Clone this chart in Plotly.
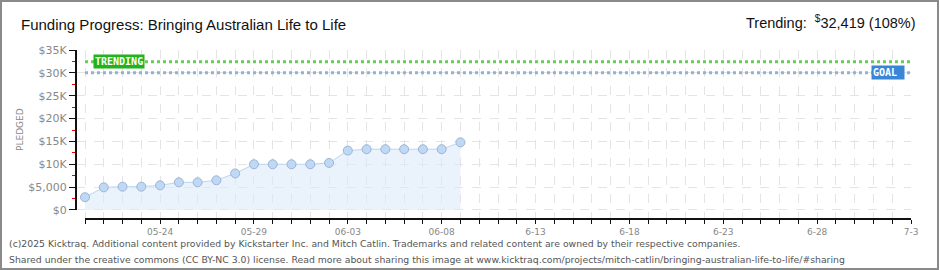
import plotly.graph_objects as go
import pandas as pd

# ---------------- data ----------------
dates = pd.date_range("2025-05-20", "2025-06-09", freq="D").strftime("%Y-%m-%d").tolist()
pledged = [2800, 4950, 5100, 5100, 5400, 6050, 6050, 6500, 8000, 10000,
           10000, 10000, 10000, 10300, 13000, 13300, 13300, 13300, 13300, 13300, 14800]
goal = 30000
trending = 32419
trending_pct = 108

y_tick_vals = [0, 5000, 10000, 15000, 20000, 25000, 30000, 35000]
y_tick_text = ["$0", "$5,000", "$10K", "$15K", "$20K", "$25K", "$30K", "$35K"]
x_tick_days = pd.date_range("2025-05-20", "2025-07-03", freq="D").strftime("%Y-%m-%d").tolist()
x_label_dates = ["2025-05-24", "2025-05-29", "2025-06-03", "2025-06-08", "2025-06-13",
                 "2025-06-18", "2025-06-23", "2025-06-28", "2025-07-03"]
x_label_text = ["05-24", "05-29", "06-03", "06-08", "6-13", "6-18", "6-23", "6-28", "7-3"]

title = "Funding Progress: Bringing Australian Life to Life"
footer1 = ("(c)2025 Kicktraq. Additional content provided by Kickstarter Inc. and Mitch Catlin. "
           "Trademarks and related content are owned by their respective companies.")
footer2 = ("Shared under the creative commons (CC BY-NC 3.0) license. Read more about sharing this image at "
           "www.kicktraq.com/projects/mitch-catlin/bringing-australian-life-to-life/#sharing")

# ---------------- layout geometry (pixels) ----------------
W, H = 940, 270
ML, MR, MT, MB = 76, 29, 50, 51
PW, PH = W - ML - MR, H - MT - MB


def px(x):
    return (x - ML) / PW


def py(y):
    return (H - MB - y) / PH


fig = go.Figure()

fig.add_trace(go.Scatter(
    x=dates, y=pledged, mode="lines+markers",
    line=dict(color="#bcd6f2", width=1),
    fill="tozeroy", fillcolor="rgba(220,234,250,0.6)",
    marker=dict(size=9, color="#bfd8f6", line=dict(color="#9db4d2", width=1)),
    hoverinfo="x+y", showlegend=False,
))

# trending and goal lines
fig.add_trace(go.Scatter(
    x=[dates[0], x_tick_days[-1]], y=[trending, trending], mode="lines",
    line=dict(color="#66cc55", width=3, dash="dot"), showlegend=False, hoverinfo="skip"))
fig.add_trace(go.Scatter(
    x=[dates[0], x_tick_days[-1]], y=[goal, goal], mode="lines",
    line=dict(color="#8fb1da", width=3, dash="dot"), showlegend=False, hoverinfo="skip"))

fig.update_layout(
    width=W, height=H,
    margin=dict(l=ML, r=MR, t=MT, b=MB, pad=0),
    paper_bgcolor="white", plot_bgcolor="white",
    font=dict(family="DejaVu Sans", color="#777"),
    xaxis=dict(
        type="date",
        range=["2025-05-19 12:30", x_tick_days[-1]],
        tickmode="array", tickvals=x_label_dates, ticktext=x_label_text,
        ticks="outside", ticklen=4, tickcolor="#111", tickwidth=1,
        minor=dict(tickmode="array", tickvals=x_tick_days, ticks="outside", ticklen=4,
                   tickcolor="#111", tickwidth=1, showgrid=True, gridcolor="#e4e4e4",
                   griddash="dash", gridwidth=1),
        showgrid=True, gridcolor="#e4e4e4", griddash="dash", gridwidth=1,
        showline=False, zeroline=False,
        tickfont=dict(family="DejaVu Sans", size=9, color="#888"),
        fixedrange=True,
    ),
    yaxis=dict(
        range=[-1970, 35000],
        tickmode="array", tickvals=y_tick_vals, ticktext=y_tick_text,
        ticks="outside", ticklen=6, tickcolor="#111", tickwidth=1,
        minor=dict(tickmode="array", tickvals=[v + 2500 for v in y_tick_vals[:-1]],
                   ticks="outside", ticklen=3, tickcolor="#e00", showgrid=False),
        showgrid=True, gridcolor="#e4e4e4", griddash="dash", gridwidth=1,
        showline=False, zeroline=False,
        tickfont=dict(family="DejaVu Sans", size=11, color="#888"),
        fixedrange=True,
    ),
    shapes=[
        # y axis line
        dict(type="line", xref="paper", yref="y", x0=0, x1=0, y0=0, y1=35000,
             line=dict(color="#111", width=2)),
        # x axis line
        dict(type="line", xref="x", yref="paper", x0=dates[0], x1=x_tick_days[-1], y0=0, y1=0,
             line=dict(color="#111", width=2)),
        # frame
        dict(type="rect", xref="paper", yref="paper", x0=px(1), x1=px(938), y0=py(269), y1=py(1),
             line=dict(color="#8a8a8a", width=2), layer="above"),
    ],
    annotations=[
        dict(text=title, xref="paper", yref="paper", x=px(19), y=py(24), xanchor="left", yanchor="middle",
             showarrow=False, font=dict(family="Liberation Sans", size=15, color="#111")),
        dict(text=f"Trending:  <sup>$</sup>{trending:,} ({trending_pct}%)", xref="paper", yref="paper",
             x=px(918), y=py(22), xanchor="right", yanchor="middle", showarrow=False,
             font=dict(family="Liberation Sans", size=14.5, color="#111")),
        dict(text="PLEDGED", xref="paper", yref="paper", x=px(20), y=py(130), textangle=-90,
             xanchor="center", yanchor="middle", showarrow=False,
             font=dict(family="DejaVu Sans", size=9, color="#888")),
        dict(text=footer1, xref="paper", yref="paper", x=px(7), y=py(243), xanchor="left", yanchor="middle",
             showarrow=False, font=dict(family="DejaVu Sans", size=9.3, color="#555")),
        dict(text=footer2, xref="paper", yref="paper", x=px(7), y=py(259), xanchor="left", yanchor="middle",
             showarrow=False, font=dict(family="DejaVu Sans", size=9.3, color="#555")),
        # TRENDING label
        dict(text="<b>TRENDING</b>", xref="paper", yref="y", x=px(93), y=trending, xanchor="left",
             yanchor="middle", showarrow=False, bgcolor="#1fb31f", borderpad=1,
             font=dict(family="DejaVu Sans Mono", size=10, color="white")),
        # GOAL label
        dict(text="<b>GOAL</b> ", xref="paper", yref="y", x=px(905), y=goal, xanchor="right", yanchor="middle",
             showarrow=False, bgcolor="#3a86d6", borderpad=1,
             font=dict(family="DejaVu Sans Mono", size=10, color="white")),
    ],
)

fig.write_html("out.html", config={"displayModeBar": False},
               post_script="document.body.style.margin='0';document.body.style.overflow='hidden';")
